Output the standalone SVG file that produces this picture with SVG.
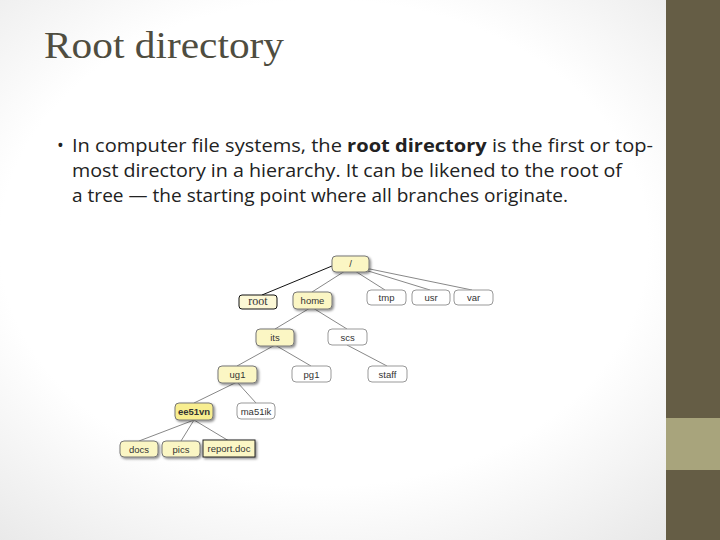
<svg xmlns="http://www.w3.org/2000/svg" width="720" height="540" viewBox="0 0 720 540">
<defs>
<radialGradient id="bg" cx="0.45" cy="0.45" r="0.75"><stop offset="0.6" stop-color="#ffffff"/><stop offset="1" stop-color="#e6e6e6"/></radialGradient>
<filter id="sh" x="-20%" y="-20%" width="150%" height="160%"><feDropShadow dx="1.5" dy="1.5" stdDeviation="1" flood-color="#000" flood-opacity="0.45"/></filter>
</defs>
<style>
.n rect{stroke:#777;stroke-width:1}
.y rect{fill:#fbf6c4;filter:url(#sh)}
.w rect{fill:#fff;stroke:#999}
.n text{font-family:"Liberation Sans",Arial,sans-serif;font-size:9.5px;fill:#333;text-anchor:middle}
#connectors line{stroke:#888;stroke-width:1}
</style>
<rect width="720" height="540" fill="url(#bg)"/>
<rect x="666" y="0" width="54" height="540" fill="#655d45"/>
<rect x="666" y="418" width="54" height="52" fill="#a8a47c"/>
<text x="44" y="58" font-family="Liberation Serif,serif" font-size="38" fill="#4f4d40" textLength="240" lengthAdjust="spacingAndGlyphs">Root directory</text>
<g font-family="Open Sans,Liberation Sans,sans-serif" font-size="18" fill="#222">
<text x="57" y="152">•</text>
<text x="72" y="152" textLength="581" lengthAdjust="spacingAndGlyphs">In computer file systems, the <tspan font-weight="bold">root directory</tspan> is the first or top-</text>
<text x="72" y="177" textLength="550" lengthAdjust="spacingAndGlyphs">most directory in a hierarchy. It can be likened to the root of</text>
<text x="72" y="202" textLength="496" lengthAdjust="spacingAndGlyphs">a tree — the starting point where all branches originate.</text>
</g>
<g id="connectors">
<line x1="332" y1="266" x2="262" y2="295" style="stroke:#111"/>
<line x1="345" y1="271" x2="312" y2="292"/>
<line x1="355" y1="271" x2="385" y2="290"/>
<line x1="365" y1="270" x2="430" y2="290"/>
<line x1="365" y1="268" x2="472" y2="290"/>
<line x1="310" y1="308" x2="275" y2="329"/>
<line x1="313" y1="308" x2="347" y2="329"/>
<line x1="275" y1="345" x2="237" y2="366"/>
<line x1="275" y1="345" x2="311" y2="366"/>
<line x1="347" y1="345" x2="387" y2="366"/>
<line x1="237" y1="382" x2="194" y2="403"/>
<line x1="237" y1="382" x2="256" y2="403"/>
<line x1="194" y1="420" x2="139" y2="441"/>
<line x1="194" y1="420" x2="181" y2="441"/>
<line x1="194" y1="420" x2="229" y2="441"/>
</g>
<g id="n-slash" class="n y"><rect x="332" y="256" width="37" height="16" rx="4"/><text x="350.5" y="267">/</text></g>
<g id="n-root" class="n"><rect x="239" y="295" width="38" height="14" rx="3" fill="#fcf8d6" stroke="#111" style="stroke:#111"/><text x="258" y="305" style="font-family:'Liberation Serif',serif;font-size:12px">root</text></g>
<g id="n-home" class="n y"><rect x="293" y="292" width="39" height="17" rx="4"/><text x="312.5" y="304">home</text></g>
<g id="n-tmp" class="n w"><rect x="367" y="290" width="39" height="15" rx="4"/><text x="386.5" y="301">tmp</text></g>
<g id="n-usr" class="n w"><rect x="412" y="290" width="38" height="15" rx="4"/><text x="431" y="301">usr</text></g>
<g id="n-var" class="n w"><rect x="454" y="290" width="39" height="15" rx="4"/><text x="473.5" y="301">var</text></g>
<g id="n-its" class="n y"><rect x="256" y="329" width="38" height="17" rx="4"/><text x="275" y="341">its</text></g>
<g id="n-scs" class="n w"><rect x="328" y="329" width="39" height="16" rx="4"/><text x="347.5" y="341">scs</text></g>
<g id="n-ug1" class="n y"><rect x="218" y="366" width="39" height="17" rx="4"/><text x="237.5" y="378">ug1</text></g>
<g id="n-pg1" class="n w"><rect x="292" y="366" width="39" height="16" rx="4"/><text x="311.5" y="378">pg1</text></g>
<g id="n-staff" class="n w"><rect x="368" y="366" width="39" height="16" rx="4"/><text x="387.5" y="378">staff</text></g>
<g id="n-ee51vn" class="n y"><rect x="175" y="403" width="38" height="17" rx="4" style="fill:#f8ee90"/><text x="194" y="415" font-weight="bold">ee51vn</text></g>
<g id="n-ma51ik" class="n w"><rect x="237" y="403" width="38" height="16" rx="4"/><text x="256" y="415">ma51ik</text></g>
<g id="n-docs" class="n y"><rect x="120" y="441" width="38" height="16" rx="4"/><text x="139" y="453">docs</text></g>
<g id="n-pics" class="n y"><rect x="162" y="441" width="38" height="16" rx="4"/><text x="181" y="453">pics</text></g>
<g id="n-report" class="n y"><rect x="203" y="440" width="52" height="17" rx="0" style="stroke:#222"/><text x="229" y="452">report.doc</text></g>
</svg>
